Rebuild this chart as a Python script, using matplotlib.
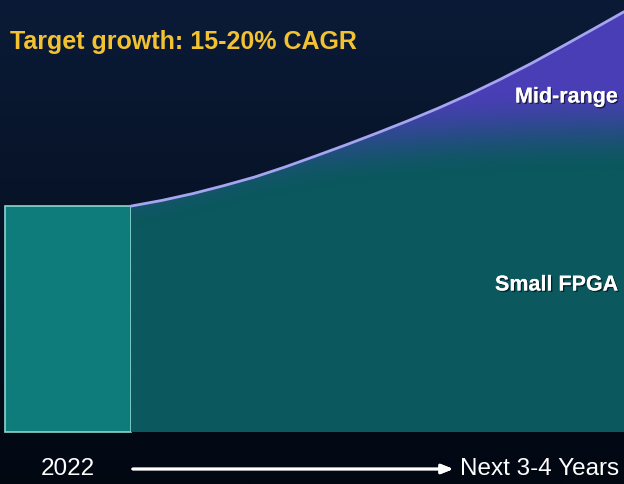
import numpy as np
import matplotlib.pyplot as plt
from matplotlib.colors import to_rgb
import matplotlib.patheffects as pe

# market size index, 2022 = 100, years after 2022
years = [0, 0.25, 0.5, 0.75, 1, 1.25, 1.5, 1.75, 2, 2.25, 2.5, 2.75, 3, 3.25, 3.5, 3.75, 4]
total = [100, 102.5, 105.5, 109, 112.8, 117.3, 122.2, 127.2, 132.4, 137.8, 143.5,
         149.6, 156.2, 163.2, 170.7, 178.3, 186]
small_years = [0, 0.5, 1, 1.5, 2, 2.5, 3, 3.5, 4]
small_fpga = [100, 106, 113, 118, 121, 123, 124.5, 125.5, 126]
base_2022 = 100

bg_top = to_rgb('#0b1b37')
bg_bot = to_rgb('#020812')
teal = np.array(to_rgb('#0b585e'))
purple = np.array(to_rgb('#4a3eb6'))

fig = plt.figure(figsize=(6.24, 4.84), dpi=100)
ax = fig.add_axes([0, 0, 1, 1])
ax.set_xlim(-1.063, 4.0)
ax.set_ylim(-23.0, 191.2)
ax.axis('off')

# background gradient
g = np.linspace(0, 1, 256)[:, None]
bg = np.array(bg_top)[None, None, :] * (1 - g[..., None]) + np.array(bg_bot)[None, None, :] * g[..., None]
bg = np.repeat(bg, 2, axis=1)
ax.imshow(bg, extent=[-1.063, 4.0, -23.0, 191.2], aspect='auto', zorder=0)

# 2022 box
ax.bar(-0.511, base_2022, width=1.022, color='#0e7c7a', edgecolor='#8dd5cd',
       linewidth=1.2, zorder=2)

# growth area with purple mid-range gradient
poly = ax.fill_between(years, 0, total, color='none', zorder=2)
tt = np.linspace(0, 4, 400)
vv = np.linspace(0, 190, 400)
T, V = np.meshgrid(tt, vv)
lower = np.interp(T, small_years, small_fpga)
w = np.clip((V - lower + 10) / 38, 0, 1)
w = w * w * (3 - 2 * w)
img = teal[None, None, :] * (1 - w[..., None]) + purple[None, None, :] * w[..., None]
im = ax.imshow(img, extent=[0, 4, 0, 190], origin='lower', aspect='auto', zorder=2)
im.set_clip_path(poly.get_paths()[0], transform=ax.transData)

ax.plot(years, total, color='#a5a5f2', linewidth=2, zorder=3, solid_capstyle='round')

shadow = [pe.withSimplePatchShadow(offset=(1, -1), shadow_rgbFace='black', alpha=0.6), pe.Normal()]
fig.text(10 / 624, 1 - 42 / 484, 'Target growth: 15-20% CAGR', color='#f2c232',
         fontsize=18, fontweight='bold', family='Liberation Sans', va='center', ha='left')
fig.text(618 / 624, 1 - 97 / 484, 'Mid-range', color='white', fontsize=15.5,
         fontweight='bold', family='Liberation Sans', va='center', ha='right', path_effects=shadow)
fig.text(618 / 624, 1 - 285 / 484, 'Small FPGA', color='white', fontsize=15.5,
         fontweight='bold', family='Liberation Sans', va='center', ha='right', path_effects=shadow)

fig.text(68 / 624, 1 - 469 / 484, '2022', color='white', fontsize=17.5,
         family='Liberation Sans', va='center', ha='center')
fig.text(460 / 624, 1 - 469 / 484, 'Next 3-4 Years', color='white', fontsize=17.5,
         family='Liberation Sans', va='center', ha='left')
fig.add_artist(plt.annotate('', xy=(456 / 624, 1 - 469 / 484), xytext=(130 / 624, 1 - 469 / 484),
                            xycoords='figure fraction',
                            arrowprops=dict(arrowstyle='-|>,head_length=0.7,head_width=0.28',
                                            color='white', lw=2)))

fig.savefig('out.png', dpi=100, facecolor=bg_bot)
